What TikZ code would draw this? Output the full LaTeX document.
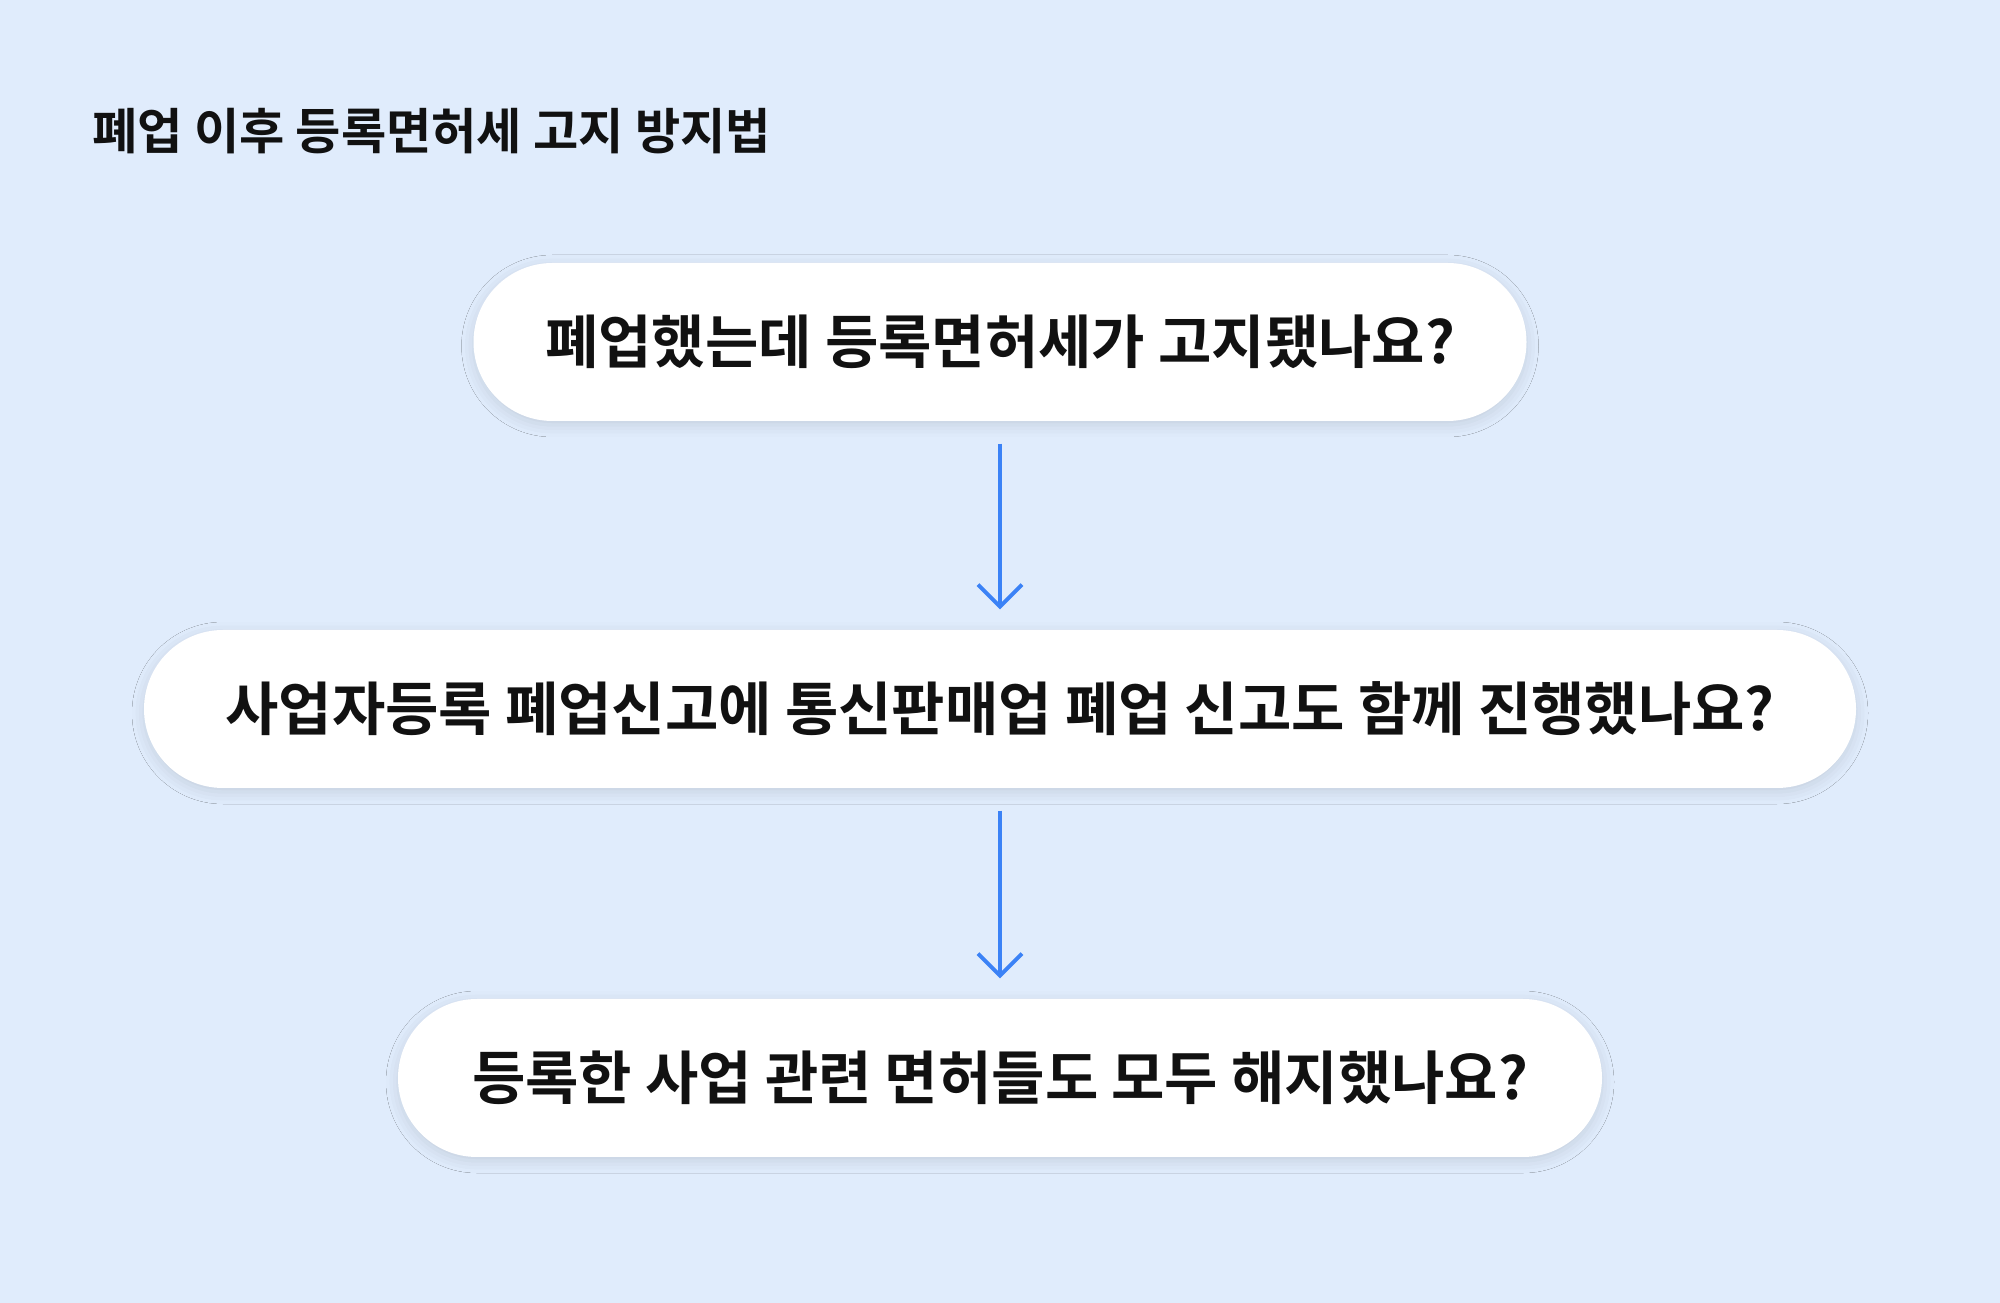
\documentclass[tikz,border=0pt]{standalone}
\usepackage{fontspec}
\setmainfont{Noto Sans CJK KR}[BoldFont={* Bold}]
\usetikzlibrary{arrows.meta,shadows.blur}
\definecolor{bg}{HTML}{E0ECFC}
\definecolor{arr}{HTML}{3B82F6}
\definecolor{txt}{HTML}{111111}
\tikzset{
 qbox/.style={fill=white,rounded corners=0.79cm,minimum height=1.58cm,inner sep=0pt,
   font=\fontsize{16.5}{20}\selectfont\bfseries,text=txt,
   blur shadow={shadow xshift=0pt,shadow yshift=-0.04cm,shadow blur radius=0.12cm,shadow opacity=12}},
 flow/.style={draw=arr,line width=1.1pt,-{Straight Barb[length=2.2mm,width=4.4mm]}}
}
\begin{document}
\begin{tikzpicture}
\useasboundingbox[fill=bg] (0,0) rectangle (20,-13.03);
\node[anchor=west,font=\fontsize{14}{17}\selectfont\bfseries,text=txt] (title) at (0.8,-1.31) {폐업 이후 등록면허세 고지 방지법};
\node[qbox,minimum width=10.53cm] (b1) at (10,-3.42) {폐업했는데 등록면허세가 고지됐나요?};
\node[qbox,minimum width=17.12cm] (b2) at (10,-7.09) {사업자등록 폐업신고에 통신판매업 폐업 신고도 함께 진행했나요?};
\node[qbox,minimum width=12.04cm] (b3) at (10,-10.78) {등록한 사업 관련 면허들도 모두 해지했나요?};
\draw[flow] ([yshift=-0.22cm]b1.south) -- ([yshift=0.2cm]b2.north);
\draw[flow] ([yshift=-0.22cm]b2.south) -- ([yshift=0.2cm]b3.north);
\end{tikzpicture}
\end{document}
